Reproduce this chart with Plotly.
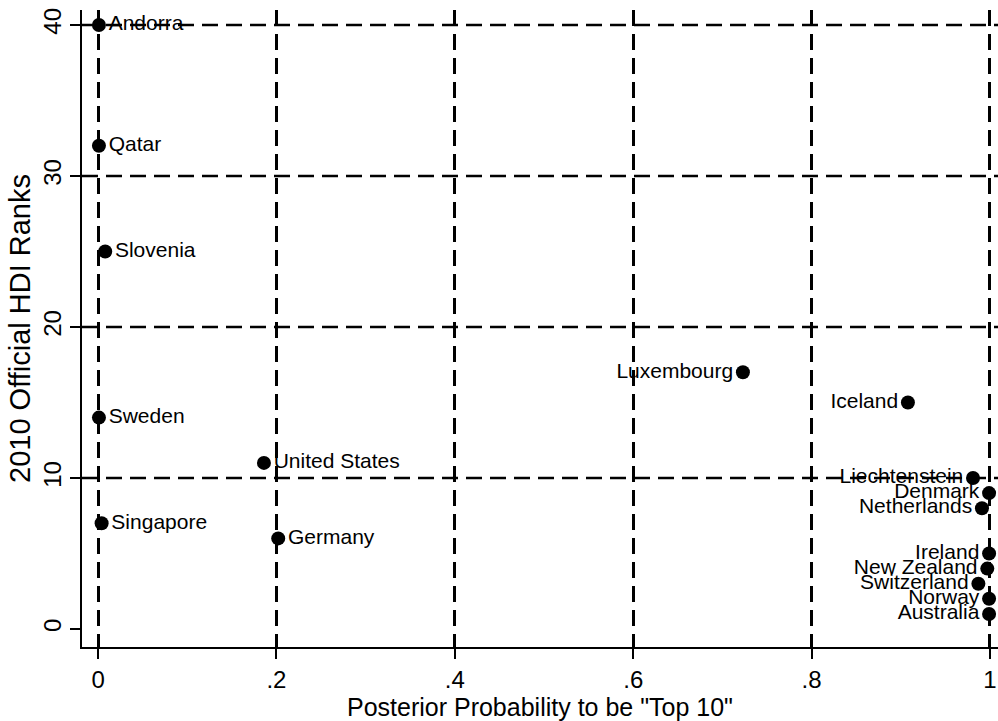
import plotly.graph_objects as go

# Countries, posterior probability of being in the top 10, official 2010 HDI rank
left_countries = ["Andorra", "Qatar", "Slovenia", "Sweden", "Singapore",
                  "United States", "Germany"]
left_prob = [0.001, 0.001, 0.008, 0.001, 0.004, 0.186, 0.202]
left_rank = [40, 32, 25, 14, 7, 11, 6]

right_countries = ["Luxembourg", "Iceland", "Liechtenstein", "Denmark", "Netherlands",
                   "Ireland", "New Zealand", "Switzerland", "Norway", "Australia"]
right_prob = [0.723, 0.908, 0.981, 0.999, 0.991, 0.999, 0.997, 0.987, 0.999, 0.999]
right_rank = [17, 15, 10, 9, 8, 5, 4, 3, 2, 1]

x_ticks = [0, 0.2, 0.4, 0.6, 0.8, 1]
x_tick_labels = ["0", ".2", ".4", ".6", ".8", "1"]
y_ticks = [0, 10, 20, 30, 40]

FONT = "Liberation Sans, Arial, sans-serif"
marker = dict(color="black", size=14)
label_font = dict(family=FONT, size=21, color="black")
DASH = "16px,8px"

fig = go.Figure()
fig.add_trace(go.Scatter(
    x=left_prob, y=left_rank, mode="markers+text", text=left_countries,
    textposition="middle right", marker=marker, textfont=label_font,
    cliponaxis=False, showlegend=False,
))
fig.add_trace(go.Scatter(
    x=right_prob, y=right_rank, mode="markers+text", text=right_countries,
    textposition="middle left", marker=marker, textfont=label_font,
    cliponaxis=False, showlegend=False,
))

axis_common = dict(
    showline=True, linecolor="black", linewidth=1.5,
    ticks="outside", ticklen=10, tickwidth=1.5, tickcolor="black",
    zeroline=False, tickfont=dict(family=FONT, size=24, color="black"),
)

fig.update_xaxes(
    range=[-0.018, 1.009], tickvals=x_ticks, ticktext=x_tick_labels,
    showgrid=True, gridcolor="black", gridwidth=2.5, griddash=DASH,
    title=dict(text='Posterior Probability to be "Top 10"',
               font=dict(family=FONT, size=25, color="black"), standoff=0),
    **axis_common,
)
fig.update_yaxes(
    range=[-1.19, 40.99], tickvals=y_ticks, tickangle=-90, showgrid=False,
    title=dict(text="2010 Official HDI Ranks",
               font=dict(family=FONT, size=29, color="black"), standoff=0),
    **axis_common,
)

# Horizontal dashed reference lines at every rank tick above zero
for yv in y_ticks:
    if yv == 0:
        continue
    fig.add_shape(
        type="line", xref="paper", x0=0, x1=1, yref="y", y0=yv, y1=yv,
        line=dict(color="black", width=2.5, dash=DASH), layer="below",
    )

fig.update_layout(
    width=998, height=721,
    margin=dict(l=82, r=0, t=10, b=74),
    plot_bgcolor="white", paper_bgcolor="white",
)

fig.write_html("out.html")
